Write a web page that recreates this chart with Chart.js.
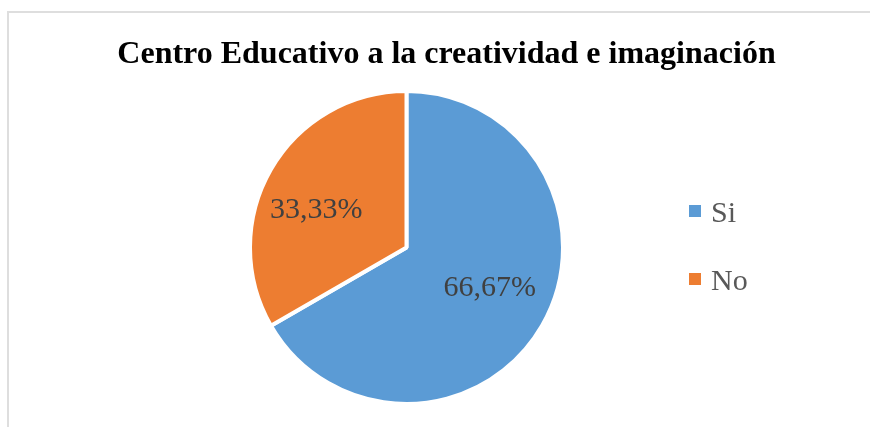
<!DOCTYPE html>
<html>
<head>
<meta charset="utf-8">
<script src="https://cdn.jsdelivr.net/npm/chart.js@4"></script>
<style>
  html, body { margin: 0; padding: 0; background: #fff; overflow: hidden; }
  #wrap { position: relative; width: 870px; height: 427px; overflow: hidden; }
  #frame { position: absolute; left: 7px; top: 11px; width: 2000px; height: 2000px; border: 2px solid #dedede; box-sizing: border-box; }
  canvas { position: absolute; left: 0; top: 0; }
</style>
</head>
<body>
<div id="wrap">
  <div id="frame"></div>
  <canvas id="c" width="870" height="427"></canvas>
</div>
<script>
const titleText = "Centro Educativo a la creatividad e imaginación";
const categories = ["Si", "No"];
const values = [66.67, 33.33];
const valueLabels = ["66,67%", "33,33%"];
const colors = ["#5B9BD5", "#ED7D31"];

const serif = "'Liberation Serif', 'Times New Roman', serif";

const textPlugin = {
  id: 'textPlugin',
  afterDraw(chart) {
    const ctx = chart.ctx;
    const meta = chart.getDatasetMeta(0);
    ctx.save();
    // title
    ctx.fillStyle = '#000000';
    ctx.font = "bold 32px " + serif;
    ctx.textAlign = 'center';
    ctx.textBaseline = 'alphabetic';
    ctx.fillText(titleText, 446.5, 63);

    // data labels
    const nudges = [[2, -6], [-9, 10]];
    ctx.font = "30px " + serif;
    ctx.fillStyle = '#404040';
    ctx.textAlign = 'center';
    ctx.textBaseline = 'middle';
    meta.data.forEach((arc, i) => {
      const p = arc.getProps(['x', 'y', 'startAngle', 'endAngle', 'outerRadius'], true);
      const mid = (p.startAngle + p.endAngle) / 2;
      const d = p.outerRadius * 0.6;
      const x = p.x + Math.cos(mid) * d + nudges[i][0];
      const y = p.y + Math.sin(mid) * d + nudges[i][1];
      ctx.fillText(valueLabels[i], x, y);
    });

    // legend
    ctx.textAlign = 'left';
    ctx.textBaseline = 'alphabetic';
    ctx.font = "30px " + serif;
    categories.forEach((cat, i) => {
      const baseY = 222 + i * 68;
      ctx.fillStyle = colors[i];
      ctx.fillRect(689, baseY - 17, 12, 12);
      ctx.fillStyle = '#595959';
      ctx.fillText(cat, 711, baseY);
    });
    ctx.restore();
  }
};

new Chart(document.getElementById('c'), {
  type: 'pie',
  data: {
    labels: categories,
    datasets: [{
      data: values,
      backgroundColor: colors,
      borderColor: '#ffffff',
      borderWidth: 4,
      hoverOffset: 0
    }]
  },
  options: {
    responsive: false,
    animation: false,
    layout: { padding: { left: 248, right: 305, top: 89, bottom: 21 } },
    plugins: {
      legend: { display: false },
      title: { display: false },
      tooltip: { enabled: false }
    }
  },
  plugins: [textPlugin]
});
</script>
</body>
</html>
